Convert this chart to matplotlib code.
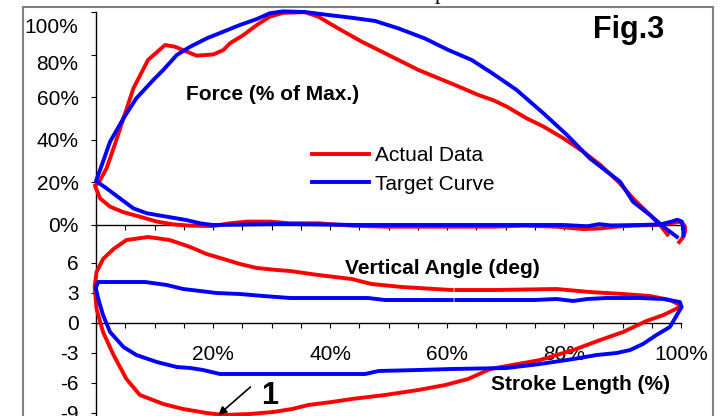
import numpy as np
import matplotlib
matplotlib.use("Agg")
import matplotlib.pyplot as plt
from matplotlib.patches import Rectangle
from matplotlib.transforms import ScaledTranslation

plt.rcParams['font.family'] = ['Liberation Sans', 'DejaVu Sans']
plt.rcParams['axes.unicode_minus'] = False

# force (% of max) vs stroke length (%) -- actual data loop
force_act_x = [99.7, 100.4, 100.7, 100.7, 100.1, 98.1, 95.8, 91.8, 89.0, 86.2, 83.3, 78.7,
               73.0, 68.2, 55.1, 49.4, 43.7, 38.0, 33.2, 29.7, 25.8, 22.9, 20.0, 16.1,
               13.2, 10.4, 7.5, 4.7, 2.4, 0.7, -0.2, 0.4, 1.8, 3.2, 4.7, 6.4, 8.9, 11.8,
               13.5, 15.5, 17.2, 20.1, 21.8, 22.9, 25.2, 27.5, 29.7, 32.0, 35.7, 38.0,
               41.4, 45.4, 50.0, 55.1, 61.4, 65.4, 68.0, 70.2, 73.6, 76.5, 79.9, 83.3,
               86.2, 89.3, 91.8, 94.7, 96.4, 97.7]
force_act_y = [-8.0, -5.6, -3.1, -0.8, 1.6, 0.8, 0.0, -0.3, -0.8, -1.6, -1.9, -0.8,
               -0.3, -0.8, -0.8, -0.8, -0.3, 0.8, 0.8, 1.6, 1.6, 0.8, -0.5, -0.3,
               0.3, 1.6, 3.9, 6.0, 8.6, 12.5, 18.5, 19.6, 26.6, 37.6, 50.1, 64.2, 77.5, 84.5,
               83.7, 81.4, 79.5, 80.1, 82.2, 85.3, 89.2, 93.9, 97.8, 99.6, 99.9, 97.8,
               92.3, 86.1, 79.8, 72.8, 65.7, 61.0, 58.5, 55.6, 50.1, 46.2, 40.7, 34.4,
               28.2, 20.3, 12.5, 4.7, 0.0, -4.5]

# force -- target curve loop
force_tgt_x = [100.4, 100.4, 100.1, 99.4, 98.4, 96.5, 93.0, 88.0, 86.0, 84.0, 80.0, 70.0,
               60.0, 45.0, 32.0, 20.0, 17.8, 15.5, 12.1, 8.7, 6.4, 4.1, 1.8, 0.0,
               1.0, 2.4, 4.7, 6.9, 9.8, 11.5, 13.8, 16.1, 18.9, 21.8, 24.6, 27.5,
               29.7, 32.0, 35.7, 39.7, 43.7, 47.7, 51.7, 56.2, 60.2, 64.2, 67.6, 71.9,
               76.5, 80.5, 84.4, 89.6, 91.8, 94.7, 97.0, 99.3]
force_tgt_y = [-4.8, -1.0, 1.6, 2.5, 1.6, 0.3, 0.0, -0.2, 0.4, -0.6, 0.0, 0.0,
               0.0, 0.0, 0.5, 0.0, 0.8, 2.3, 3.9, 5.5, 7.8, 12.5, 17.2, 20.7,
               28.2, 39.1, 50.1, 59.5, 68.1, 72.8, 79.8, 83.7, 87.6, 90.8, 93.9, 96.7,
               99.4, 100.3, 100.0, 98.6, 97.3, 95.8, 92.3, 87.6, 82.2, 77.5, 71.5, 63.4,
               52.4, 42.3, 31.3, 20.3, 10.9, 4.7, -0.8, -5.6]

# vertical angle (deg) -- actual data loop (nan = gap in the trace)
angle_act_x = [-0.2, 0.1, 1.2, 3.0, 5.2, 8.9, 12.6, 16.1, 18.9, 21.8, 24.6, 27.5,
               30.9, 33.2, 38.0, 43.7, 47.1, 52.3, 60.8, np.nan, 61.6, 68.2, 78.7, 84.4,
               90.1, 94.7, 98.1, 99.8, 99.8, 97.0, 94.1, 90.1, 86.2, 81.6, 75.9, 70.2,
               67.4, 63.6, 59.7, 55.1, 49.4, 43.7, 40.3, 36.3, 33.5, 30.3, 26.3, 21.8,
               18.9, 14.9, 11.5, 7.5, 5.2, 3.0, 1.2, 0.1, -0.2]
angle_act_y = [3.8, 5.1, 6.4, 7.4, 8.3, 8.6, 8.3, 7.6, 6.9, 6.4, 5.9, 5.5,
               5.3, 5.2, 4.8, 4.4, 3.9, 3.6, 3.3, np.nan, 3.3, 3.3, 3.4, 3.1,
               2.9, 2.7, 2.3, 1.8, 1.6, 0.8, 0.2, -0.9, -1.7, -2.7, -3.7, -4.3,
               -4.6, -5.6, -6.2, -6.7, -7.2, -7.6, -7.9, -8.2, -8.6, -8.9, -9.1, -9.2,
               -9.0, -8.6, -8.1, -7.2, -5.6, -3.2, -0.9, 1.4, 3.4]

# vertical angle -- target curve loop
angle_tgt_x = [0.0, 0.4, 4.7, 8.4, 12.1, 14.9, 17.8, 20.6, 24.6, 28.6, 33.2, 46.5,
               49.4, 60.8, np.nan, 61.6, 67.4, 75.0, 78.7, 81.6, 84.0, 87.3, 93.0, 97.0,
               99.8, 100.1, 99.3, 98.1, 95.8, 93.5, 91.3, 89.0, 85.6, 81.6, 75.9, 70.2,
               60.8, 55.1, 48.3, 46.0, 33.2, 21.2, 18.3, 16.1, 13.8, 10.4, 6.9, 4.7,
               2.4, 1.2, 0.4, 0.0]
angle_tgt_y = [3.6, 4.1, 4.1, 4.1, 3.8, 3.4, 3.2, 3.0, 2.9, 2.7, 2.5, 2.5,
               2.3, 2.3, np.nan, 2.3, 2.3, 2.3, 2.4, 2.2, 2.4, 2.5, 2.5, 2.4,
               2.1, 1.6, 0.8, -0.4, -1.2, -2.1, -2.7, -3.0, -3.2, -3.6, -4.1, -4.5,
               -4.6, -4.7, -4.8, -5.1, -5.1, -5.1, -4.7, -4.5, -4.4, -3.9, -3.2, -2.4,
               -0.9, 0.8, 2.4, 3.4]

x_ticks = np.arange(0, 101, 5)
force_ticks = [0, 20, 40, 60, 80, 100]
angle_ticks = [-9, -6, -3, 0, 3, 6]

RED = '#ff0000'
BLUE = '#0000ff'
LW = 2.8

fig = plt.figure(figsize=(7.2, 4.16), dpi=100)

# outer gray frame (bottom edge lies below the cropped picture)
fig.add_artist(Rectangle((23 / 720, -0.2), 690 / 720, 1.2 - 7 / 416,
                         transform=fig.transFigure, fill=False,
                         edgecolor='#808080', lw=1.5))
# bit of a caption sitting above the frame
fig.text(435 / 720, 1 + 1 / 416, 'p', family='Liberation Serif', fontsize=16,
         ha='left', va='baseline')

ax1 = fig.add_axes([96 / 720, 191 / 416, 585 / 720, 213 / 416])
ax2 = fig.add_axes([96 / 720, -27 / 416, 585 / 720, 218 / 416])

for ax in (ax1, ax2):
    ax.patch.set_alpha(0)
    for s in ('top', 'right'):
        ax.spines[s].set_visible(False)
    ax.spines['left'].set_linewidth(1.0)
    ax.spines['bottom'].set_linewidth(1.0)
    ax.set_xlim(0, 100)
    ax.set_xticks(x_ticks)
    ax.tick_params(direction='out', length=3.6, width=0.8, labelsize=15)
    ax.tick_params(axis='y', pad=9)

# --- force panel
l1, = ax1.plot(force_act_x, force_act_y, color=RED, lw=LW, clip_on=False,
               label='Actual Data', zorder=3)
l2, = ax1.plot(force_tgt_x, force_tgt_y, color=BLUE, lw=LW, clip_on=False,
               label='Target Curve', zorder=4)
ax1.set_ylim(0, 100)
ax1.set_yticks(force_ticks)
ax1.set_yticklabels([f'{v}%' for v in force_ticks])
ax1.set_xticklabels([])
# the two top labels sit a little lower than their ticks in the original
for lab, dy in zip(ax1.get_yticklabels()[-2:], (-0.08, -0.13)):
    lab.set_transform(lab.get_transform() + ScaledTranslation(0, dy, fig.dpi_scale_trans))
ax1.text(15.3, 58.7, 'Force (% of Max.)', fontsize=15, fontweight='bold',
         ha='left', va='baseline')
ax1.legend(handles=[l1, l2], loc='center left', bbox_to_anchor=(0.369, 0.259),
           frameon=False, fontsize=15, handlelength=2.75, handletextpad=0.3,
           labelspacing=0.45, borderpad=0, borderaxespad=0)

# --- vertical angle panel
ax2.plot(angle_act_x, angle_act_y, color=RED, lw=LW, clip_on=False, zorder=3)
ax2.plot(angle_tgt_x, angle_tgt_y, color=BLUE, lw=LW, clip_on=False, zorder=4)
ax2.set_ylim(-12, 9.8)
ax2.set_yticks(angle_ticks)
ax2.spines['bottom'].set_position(('data', 0))
ax2.set_xticklabels(['' if (v == 0 or v % 20) else f'{v}%' for v in x_ticks])
ax2.tick_params(axis='x', pad=12)
ax2.text(42.6, 4.87, 'Vertical Angle (deg)', fontsize=15, fontweight='bold',
         ha='left', va='baseline')
ax2.text(67.6, -6.73, 'Stroke Length (%)', fontsize=15, fontweight='bold',
         ha='left', va='baseline')
ax2.annotate('', xy=(20.9, -9.2), xytext=(26.4, -6.4),
             arrowprops=dict(arrowstyle='-|>', color='black', lw=1.2,
                             mutation_scale=12, shrinkA=0, shrinkB=0))
ax2.text(29.7, -8.07, '1', fontsize=22, fontweight='bold', ha='center',
         va='baseline')

fig.text(628.5 / 720, (416 - 37.7) / 416, 'Fig.3', fontsize=22,
         fontweight='bold', ha='center', va='baseline')

fig.savefig('out.png', dpi=100)
